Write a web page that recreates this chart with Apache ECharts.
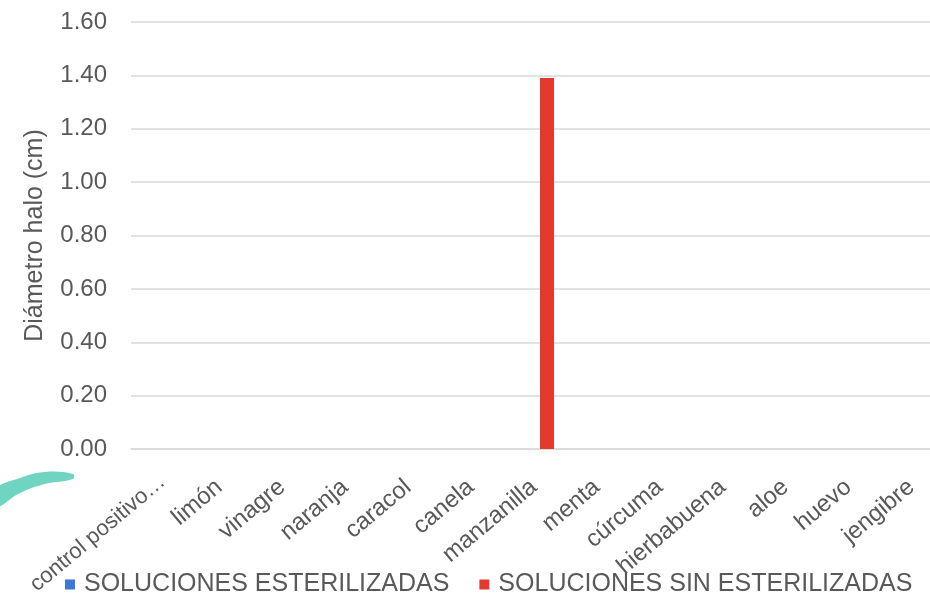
<!DOCTYPE html>
<html>
<head>
<meta charset="utf-8">
<style>
  html, body { margin: 0; padding: 0; background: #ffffff; }
  #chart { width: 930px; height: 597px; }
</style>
<script src="https://cdn.jsdelivr.net/npm/echarts@6/dist/echarts.min.js"></script>
</head>
<body>
<div id="chart"></div>
<script>
// Tratamientos evaluados (eje X)
const categories = [
  'control positivo…', 'limón', 'vinagre', 'naranja', 'caracol', 'canela',
  'manzanilla', 'menta', 'cúrcuma', 'hierbabuena', 'aloe', 'huevo', 'jengibre'
];

// Diámetro del halo de inhibición (cm)
const esterilizadas = [0, 0, 0, 0, 0, 0, 0, 0, 0, 0, 0, 0, 0];
const sinEsterilizar = [0, 0, 0, 0, 0, 0, 1.39, 0, 0, 0, 0, 0, 0];

const seriesNames = ['SOLUCIONES ESTERILIZADAS', 'SOLUCIONES SIN ESTERILIZADAS'];
const yTicks = { min: 0, max: 1.6, interval: 0.2 };

const textColor = '#595959';
const gridColor = '#d9d9d9';
const font = 'Liberation Sans, Arial, sans-serif';

// the long first label is set a little smaller so it stays on the canvas
const categoryItems = categories.map((name, i) =>
  i === 0 ? { value: name, textStyle: { fontSize: 22, padding: [0, 0, 0, 0] } } : name
);

const chart = echarts.init(document.getElementById('chart'), null, { renderer: 'canvas' });

chart.setOption({
  backgroundColor: '#ffffff',
  animation: false,
  textStyle: { fontFamily: font },
  // the plot area runs a little past the right edge of the canvas
  grid: {
    left: 131, width: 818, top: 22, bottom: 148,
    containLabel: false,
    outerBoundsMode: 'none'
  },
  legend: {
    left: 60,
    bottom: -5,
    icon: 'rect',
    itemWidth: 10,
    itemHeight: 10,
    itemGap: 30,
    textStyle: { color: textColor, fontSize: 25, fontFamily: font, padding: [0, 0, 0, 4] },
    data: seriesNames
  },
  xAxis: {
    type: 'category',
    data: categoryItems,
    axisTick: { show: false },
    axisLine: { show: true, lineStyle: { color: gridColor, width: 1.5 } },
    axisLabel: {
      interval: 0,
      rotate: 40,
      margin: 30,
      padding: [0, 8, 0, 0],
      color: textColor,
      fontSize: 24,
      fontFamily: font
    }
  },
  yAxis: {
    type: 'value',
    min: yTicks.min,
    max: yTicks.max,
    interval: yTicks.interval,
    name: 'Diámetro halo (cm)',
    nameLocation: 'middle',
    nameGap: 83,
    nameTextStyle: { color: textColor, fontSize: 25, fontFamily: font },
    axisLine: { show: false },
    axisTick: { show: false },
    axisLabel: {
      margin: 24,
      color: textColor,
      fontSize: 24,
      fontFamily: font,
      formatter: v => v.toFixed(2)
    },
    splitLine: { lineStyle: { color: gridColor, width: 1.5 } }
  },
  series: [
    {
      name: seriesNames[0],
      type: 'bar',
      data: esterilizadas,
      barWidth: 14,
      barGap: '0%',
      itemStyle: { color: '#3b78d8' }
    },
    {
      name: seriesNames[1],
      type: 'bar',
      data: sinEsterilizar,
      barWidth: 14,
      barGap: '0%',
      itemStyle: { color: '#e6392d' }
    }
  ],
  graphic: [
    {
      // trazo decorativo turquesa en la esquina inferior izquierda
      type: 'polygon',
      silent: true,
      shape: {
        points: [[-4, 489], [20, 478], [45, 472], [73, 474], [73, 479], [45, 484], [20, 493], [-4, 507]],
        smooth: 0.4
      },
      style: { fill: '#6fd5c2' }
    }
  ]
});
</script>
</body>
</html>
